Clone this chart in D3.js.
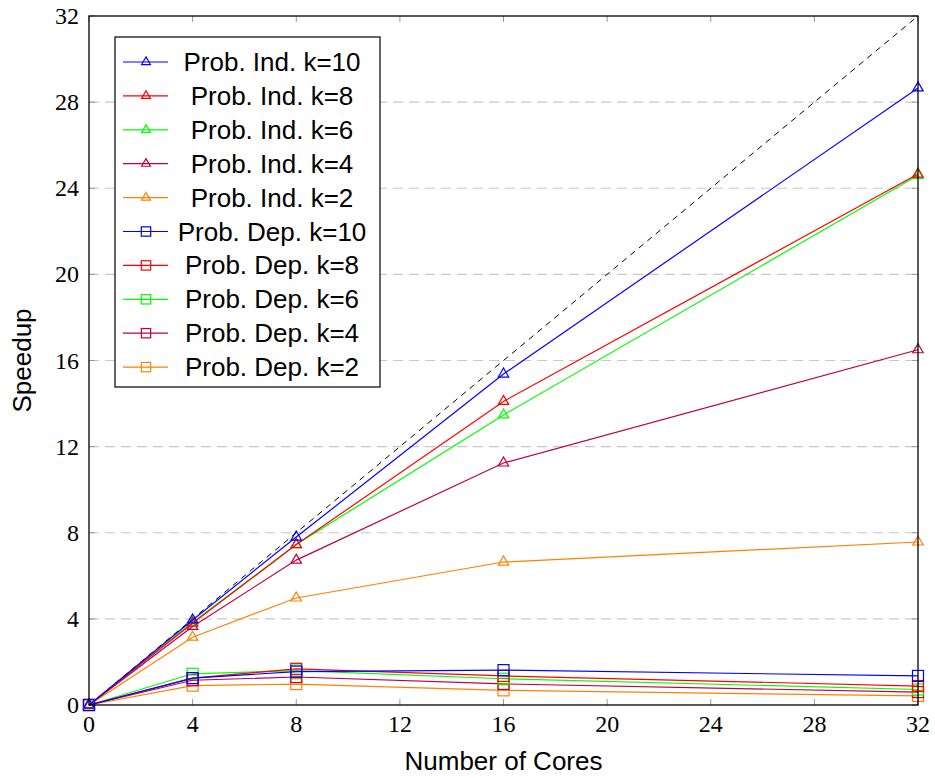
<!DOCTYPE html>
<html>
<head>
<script src="https://d3js.org/d3.v7.min.js"></script>
<style>
  body { margin: 0; background: #fff; }
  .tick-label { font-family: "Liberation Serif", "DejaVu Serif", serif; font-size: 24px; }
  .axis-title, .legend text { font-family: "Liberation Sans", Arial, sans-serif; font-size: 26px; }
</style>
</head>
<body>
<script>
  // data
  const cores = [0, 4, 8, 16, 32];
  const seriesNames = [
    "Prob. Ind. k=10", "Prob. Ind. k=8", "Prob. Ind. k=6", "Prob. Ind. k=4", "Prob. Ind. k=2",
    "Prob. Dep. k=10", "Prob. Dep. k=8", "Prob. Dep. k=6", "Prob. Dep. k=4", "Prob. Dep. k=2"
  ];
  const indK10 = [0, 3.95, 7.8, 15.37, 28.66];
  const indK8  = [0, 3.8, 7.45, 14.1, 24.66];
  const indK6  = [0, 3.85, 7.45, 13.47, 24.6];
  const indK4  = [0, 3.65, 6.73, 11.24, 16.5];
  const indK2  = [0, 3.15, 4.97, 6.64, 7.57];
  const depK10 = [0, 1.25, 1.55, 1.62, 1.35];
  const depK8  = [0, 1.25, 1.68, 1.35, 0.88];
  const depK6  = [0, 1.45, 1.6, 1.22, 0.72];
  const depK4  = [0, 1.15, 1.3, 0.98, 0.6];
  const depK2  = [0, 0.9, 0.97, 0.68, 0.42];
  const xTicks = [0, 4, 8, 12, 16, 20, 24, 28, 32];
  const yTicks = [0, 4, 8, 12, 16, 20, 24, 28, 32];

  const colors = ["#0000ff", "#ff0000", "#00ff00", "#bf0040", "#ff8000"];
  const allValues = [indK10, indK8, indK6, indK4, indK2, depK10, depK8, depK6, depK4, depK2];
  const series = allValues.map((vals, i) => ({
    name: seriesNames[i],
    color: colors[i % 5],
    marker: i < 5 ? "triangle" : "square",
    points: cores.map((c, j) => ({ x: c, y: vals[j] }))
  }));

  const width = 935, height = 778;
  const margin = { left: 89, right: 17, top: 16, bottom: 73 };
  const iw = width - margin.left - margin.right;
  const ih = height - margin.top - margin.bottom;

  const svg = d3.select("body").append("svg")
    .attr("width", width).attr("height", height);
  const g = svg.append("g").attr("transform", `translate(${margin.left},${margin.top})`);

  const x = d3.scaleLinear().domain([0, 32]).range([0, iw]);
  const y = d3.scaleLinear().domain([0, 32]).range([ih, 0]);

  // grid
  g.selectAll("line.grid").data(yTicks.filter(t => t > 0 && t < 32)).join("line")
    .attr("x1", 0).attr("x2", iw)
    .attr("y1", d => y(d)).attr("y2", d => y(d))
    .attr("stroke", "#c8c8c8").attr("stroke-width", 1.2).attr("stroke-dasharray", "10,6");

  // ticks inward
  const tl = 6;
  xTicks.forEach(t => {
    g.append("line").attr("x1", x(t)).attr("x2", x(t)).attr("y1", ih).attr("y2", ih - tl)
      .attr("stroke", "#999");
    g.append("line").attr("x1", x(t)).attr("x2", x(t)).attr("y1", 0).attr("y2", tl)
      .attr("stroke", "#999");
  });
  yTicks.forEach(t => {
    g.append("line").attr("y1", y(t)).attr("y2", y(t)).attr("x1", 0).attr("x2", tl)
      .attr("stroke", "#999");
    g.append("line").attr("y1", y(t)).attr("y2", y(t)).attr("x1", iw).attr("x2", iw - tl)
      .attr("stroke", "#999");
  });

  // tick labels
  g.selectAll("text.xl").data(xTicks).join("text")
    .attr("class", "tick-label")
    .attr("x", d => x(d)).attr("y", ih + 27)
    .attr("text-anchor", "middle").text(d => d);
  g.selectAll("text.yl").data(yTicks).join("text")
    .attr("class", "tick-label")
    .attr("x", -10).attr("y", d => y(d) + 8)
    .attr("text-anchor", "end").text(d => d);

  // axis titles
  svg.append("text").attr("class", "axis-title")
    .attr("x", margin.left + iw / 2).attr("y", 770)
    .attr("text-anchor", "middle").text("Number of Cores");
  svg.append("text").attr("class", "axis-title")
    .attr("transform", `translate(31,${margin.top + ih / 2}) rotate(-90)`)
    .attr("text-anchor", "middle").text("Speedup");

  // ideal
  g.append("line").attr("x1", x(0)).attr("y1", y(0)).attr("x2", x(32)).attr("y2", y(32))
    .attr("stroke", "#000").attr("stroke-width", 1).attr("stroke-dasharray", "6,5");

  const line = d3.line().x(d => x(d.x)).y(d => y(d.y));

  function drawMarker(sel, type, color, s) {
    if (type === "triangle") {
      sel.append("path").attr("d", `M0,${-6 * s}L${5.2 * s},${3 * s}L${-5.2 * s},${3 * s}Z`)
        .attr("fill", "none").attr("stroke", color).attr("stroke-width", 1.2);
    } else {
      sel.append("rect").attr("x", -5.5 * s).attr("y", -5.5 * s).attr("width", 11 * s).attr("height", 11 * s)
        .attr("fill", "none").attr("stroke", color).attr("stroke-width", 1.2);
    }
  }

  // draw dep first, then ind on top
  const order = [9, 8, 7, 6, 5, 4, 3, 2, 1, 0];
  order.forEach(i => {
    const s = series[i];
    g.append("path").datum(s.points).attr("d", line)
      .attr("fill", "none").attr("stroke", s.color).attr("stroke-width", 1.2);
    s.points.forEach(p => {
      const m = g.append("g").attr("transform", `translate(${x(p.x)},${y(p.y)})`);
      drawMarker(m, s.marker, s.color, 1);
    });
  });

  // frame
  g.append("rect").attr("width", iw).attr("height", ih)
    .attr("fill", "none").attr("stroke", "#000").attr("stroke-width", 1.3);

  // legend
  const lg = svg.append("g").attr("class", "legend").attr("transform", "translate(115,37)");
  const rowH = 33.9;
  lg.append("rect").attr("width", 265).attr("height", 350)
    .attr("fill", "#fff").attr("stroke", "#000").attr("stroke-width", 1.2);
  series.forEach((s, i) => {
    const row = lg.append("g").attr("transform", `translate(0,${25 + i * rowH})`);
    row.append("line").attr("x1", 8).attr("x2", 53).attr("y1", 0).attr("y2", 0)
      .attr("stroke", s.color).attr("stroke-width", 1.2);
    const m = row.append("g").attr("transform", "translate(31,0)");
    drawMarker(m, s.marker, s.color, 0.85);
    row.append("text").attr("x", 157).attr("y", 9)
      .attr("text-anchor", "middle").text(s.name);
  });
</script>
</body>
</html>
